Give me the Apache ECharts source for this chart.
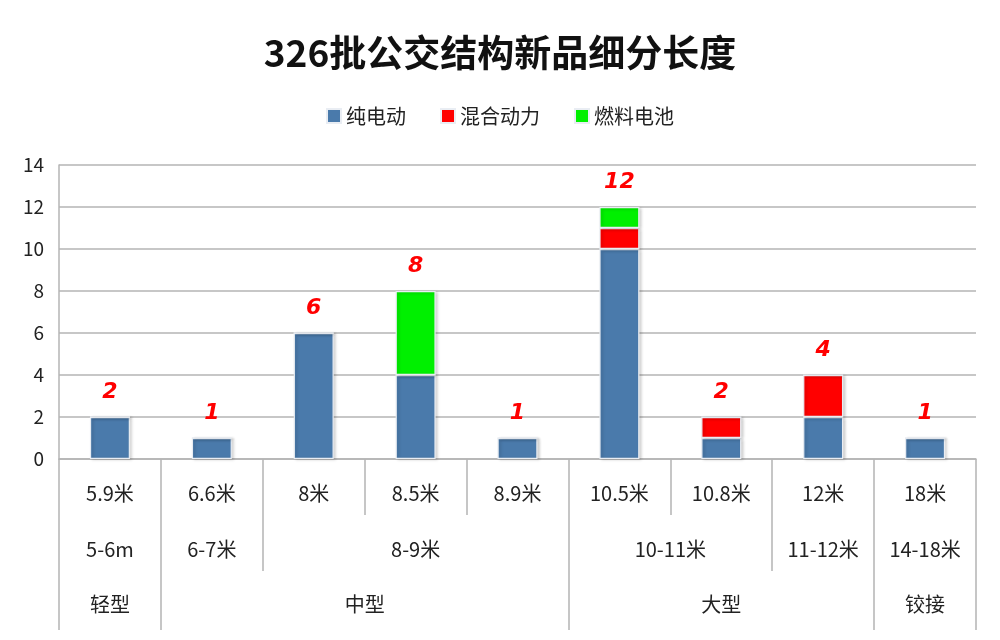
<!DOCTYPE html>
<html lang="zh">
<head>
<meta charset="UTF-8">
<title>326批公交结构新品细分长度</title>
<style>
  html, body { margin: 0; padding: 0; background: #fff; }
  #main { width: 1000px; height: 640px; }
</style>
</head>
<body>
<div id="main"></div>
<script src="https://cdn.jsdelivr.net/npm/echarts@6/dist/echarts.min.js"></script>
<script>
// 车长（第一层）
const sizes = ['5.9米', '6.6米', '8米', '8.5米', '8.9米', '10.5米', '10.8米', '12米', '18米'];
// 第二层：长度区间，[名称, 跨几个车长]
const rangeGroups = [['5-6m', 1], ['6-7米', 1], ['8-9米', 3], ['10-11米', 2], ['11-12米', 1], ['14-18米', 1]];
// 第三层：车型
const classGroups = [['轻型', 1], ['中型', 4], ['大型', 3], ['铰接', 1]];

const pureEV = [2, 1, 6, 4, 1, 10, 1, 2, 1];
const hybrid = [0, 0, 0, 0, 0, 1, 1, 2, 0];
const fuelCell = [0, 0, 0, 4, 0, 1, 0, 0, 0];
const totals = [2, 1, 6, 8, 1, 12, 2, 4, 1];

const yTicks = { min: 0, max: 14, interval: 2 };

const font = 'Noto Sans CJK SC';
const gray = '#b4b4b4';

// 把分组变成半格刻度的类目：2n+1 个点，标签放在组中间，刻度放在组边界
function buildLevel(groups) {
  const n = sizes.length;
  const labels = new Array(2 * n + 1).fill('');
  const ticks = new Set();
  let s = 0;
  groups.forEach(([name, k]) => {
    labels[2 * s + k] = name;
    ticks.add(2 * s);
    ticks.add(2 * (s + k));
    s += k;
  });
  return { labels, ticks };
}
const level2 = buildLevel(rangeGroups);
const level3 = buildLevel(classGroups);

function levelAxis(level, offset, tickLen, margin) {
  return {
    type: 'category',
    position: 'bottom',
    offset: offset,
    boundaryGap: false,
    data: level.labels,
    axisLine: { show: false },
    axisTick: {
      show: true,
      length: tickLen,
      interval: (i) => level.ticks.has(i),
      lineStyle: { color: gray, width: 1.5 }
    },
    axisLabel: {
      interval: (i, v) => v !== '',
      margin: margin,
      fontSize: 20,
      color: '#222',
      fontFamily: font
    },
    splitLine: { show: false }
  };
}

const chart = echarts.init(document.getElementById('main'));

const barStyle = (color) => ({
  color: color,
  borderColor: '#e9edf3',
  borderWidth: 1.2,
  shadowColor: 'rgba(0,0,0,0.2)',
  shadowBlur: 3,
  shadowOffsetX: 2,
  shadowOffsetY: 1
});

chart.setOption({
  animation: false,
  title: {
    text: '326批公交结构新品细分长度',
    left: 'center',
    top: 29,
    textStyle: { fontFamily: font, fontSize: 37, fontWeight: 'bold', color: '#111' }
  },
  legend: {
    data: ['纯电动', '混合动力', '燃料电池'],
    top: 101,
    left: 'center',
    itemWidth: 14,
    itemHeight: 14,
    itemGap: 34,
    icon: 'rect',
    textStyle: { fontFamily: font, fontSize: 20, color: '#222' }
  },
  grid: { left: 59, right: 24, top: 165, bottom: 181 },
  xAxis: [
    {
      type: 'category',
      data: sizes,
      boundaryGap: true,
      axisLine: { show: true, lineStyle: { color: gray, width: 1.5 } },
      axisTick: { show: true, length: 56, lineStyle: { color: gray, width: 1.5 } },
      axisLabel: { margin: 24, fontSize: 20, color: '#222', fontFamily: font }
    },
    levelAxis(level2, 56, 56, 24),
    levelAxis(level3, 112, 59, 23)
  ],
  yAxis: {
    type: 'value',
    min: yTicks.min,
    max: yTicks.max,
    interval: yTicks.interval,
    axisLine: { show: true, lineStyle: { color: gray, width: 1.5 } },
    axisTick: { show: false },
    axisLabel: { margin: 15, fontSize: 19, color: '#222', fontFamily: font },
    splitLine: { show: true, lineStyle: { color: gray, width: 1.5 } }
  },
  series: [
    { name: '纯电动', type: 'bar', stack: 'len', barWidth: 40, data: pureEV, itemStyle: barStyle('#4a7aab') },
    { name: '混合动力', type: 'bar', stack: 'len', barWidth: 40, data: hybrid, itemStyle: barStyle('#ff0000') },
    { name: '燃料电池', type: 'bar', stack: 'len', barWidth: 40, data: fuelCell, itemStyle: barStyle('#00f000') },
    {
      name: '合计',
      type: 'line',
      data: totals,
      symbol: 'circle',
      symbolSize: 1,
      showSymbol: true,
      itemStyle: { color: 'rgba(0,0,0,0)' },
      lineStyle: { opacity: 0 },
      silent: true,
      z: 5,
      label: {
        show: true,
        position: 'top',
        distance: 13,
        color: '#ff0000',
        fontSize: 22,
        fontStyle: 'italic',
        fontWeight: 'bold',
        fontFamily: 'DejaVu Sans'
      }
    }
  ]
});
</script>
</body>
</html>
